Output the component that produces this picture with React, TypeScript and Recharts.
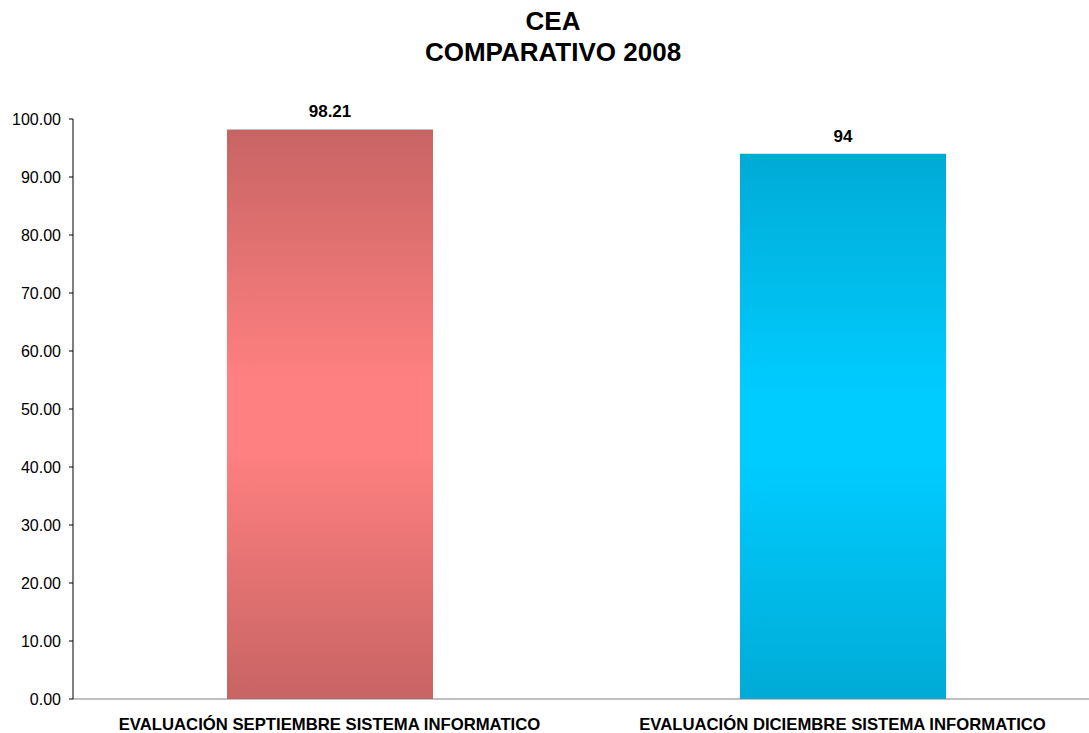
import { Bar, BarChart, Cell, LabelList, XAxis, YAxis } from "recharts";

const categories = [
  "EVALUACIÓN SEPTIEMBRE SISTEMA INFORMATICO",
  "EVALUACIÓN DICIEMBRE SISTEMA INFORMATICO",
];
const values = [98.21, 94];
const yTicks = [0, 10, 20, 30, 40, 50, 60, 70, 80, 90, 100];
const boundaryTicks = [0, 1, 2];

const data = categories.map((name, i) => ({ name, value: values[i] }));

const fontFamily = "'Liberation Sans', Arial, sans-serif";
const gradients = [
  { id: "gradRed", edge: "#C86464", mid: "#FF8080" },
  { id: "gradBlue", edge: "#00ABD6", mid: "#00CCFF" },
];

export default function App() {
  return (
    <div
      style={{
        position: "absolute",
        top: 0,
        left: 0,
        width: 1089,
        height: 733,
        overflow: "hidden",
        background: "#fff",
        fontFamily,
      }}
    >
      <div
        style={{
          position: "absolute",
          top: 6,
          left: 0,
          width: 1106,
          textAlign: "center",
          fontWeight: "bold",
          fontSize: 26,
          lineHeight: "31px",
          color: "#000",
        }}
      >
        <div>CEA</div>
        <div>COMPARATIVO 2008</div>
      </div>
      <BarChart
        width={1100}
        height={733}
        data={data}
        margin={{ top: 119, right: 1, left: 0, bottom: 0 }}
        style={{ position: "absolute", top: 0, left: 0 }}
      >
        <defs>
          {gradients.map((g) => (
            <linearGradient key={g.id} id={g.id} x1="0" y1="0" x2="0" y2="1">
              <stop offset="0%" stopColor={g.edge} />
              <stop offset="44%" stopColor={g.mid} />
              <stop offset="56%" stopColor={g.mid} />
              <stop offset="100%" stopColor={g.edge} />
            </linearGradient>
          ))}
        </defs>
        <XAxis
          xAxisId="bounds"
          type="number"
          domain={[0, 2]}
          ticks={boundaryTicks}
          tick={false}
          axisLine={false}
          tickLine={{ stroke: "#808080" }}
          tickSize={4}
          height={0}
        />
        <XAxis
          xAxisId="cat"
          dataKey="name"
          axisLine={{ stroke: "#808080" }}
          tickLine={false}
          tickSize={0}
          tickMargin={19}
          height={34}
          interval={0}
          tick={{ fill: "#000", fontSize: 16.7, fontWeight: "bold", fontFamily }}
        />
        <YAxis
          domain={[0, 100]}
          ticks={yTicks}
          width={73}
          tickSize={4}
          tickMargin={8}
          axisLine={{ stroke: "#000" }}
          tickLine={{ stroke: "#000" }}
          tickFormatter={(v: number) => v.toFixed(2)}
          tick={{ fill: "#000", fontSize: 16, fontFamily }}
        />
        <Bar xAxisId="cat" dataKey="value" barSize={206} isAnimationActive={false}>
          {data.map((d, i) => (
            <Cell key={d.name} fill={`url(#${gradients[i].id})`} />
          ))}
          <LabelList
            dataKey="value"
            position="top"
            offset={12}
            fill="#000"
            fontSize={17}
            fontWeight="bold"
            fontFamily={fontFamily}
          />
        </Bar>
      </BarChart>
    </div>
  );
}
